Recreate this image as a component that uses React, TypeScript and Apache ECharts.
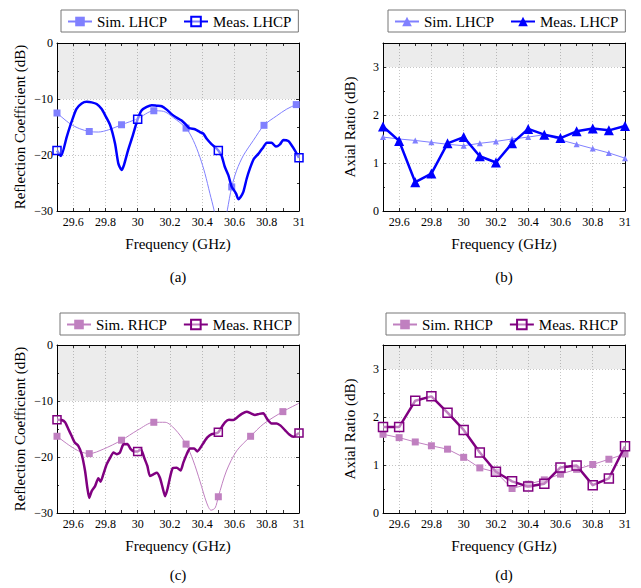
import React, { useEffect, useRef } from "react";
import * as echarts from "echarts";

// ---------- data ----------
const simLhcpFreq = [29.5, 29.58, 29.64, 29.7, 29.756, 29.82, 29.9, 30.0, 30.1, 30.16, 30.22, 30.3, 30.345, 30.386, 30.417, 30.448, 30.473, 30.49, 30.51, 30.53, 30.545, 30.556, 30.583, 30.614, 30.655, 30.717, 30.783, 30.862, 30.924, 30.983, 31.0];
const simLhcpRC = [-12.5, -14.4, -15.3, -15.8, -15.9, -15.5, -14.6, -13.5, -12.1, -12.2, -13.3, -15.2, -17.4, -20.4, -23.3, -26.9, -29.8, -32.5, -36, -35, -31.5, -29.8, -25.7, -22.7, -20.1, -17.4, -14.7, -13.0, -11.8, -11.0, -10.9];
const simLhcpMarkers = [29.5, 29.7, 29.9, 30.1, 30.3, 30.583, 30.783, 30.983];

const measLhcpFreq = [29.5, 29.525, 29.56, 29.59, 29.62, 29.653, 29.684, 29.715, 29.746, 29.777, 29.8, 29.83, 29.86, 29.88, 29.9, 29.915, 29.94, 29.97, 30.0, 30.025, 30.056, 30.087, 30.118, 30.149, 30.18, 30.21, 30.24, 30.27, 30.3, 30.32, 30.355, 30.386, 30.407, 30.428, 30.459, 30.48, 30.5, 30.52, 30.54, 30.562, 30.583, 30.597, 30.61, 30.624, 30.638, 30.655, 30.676, 30.696, 30.72, 30.748, 30.779, 30.8, 30.83, 30.857, 30.882, 30.903, 30.934, 30.955, 30.975, 31.0];
const measLhcpRC = [-19.2, -20.2, -16.8, -14.1, -11.8, -10.8, -10.5, -10.6, -10.9, -11.8, -13.0, -14.7, -18.0, -21.5, -22.7, -21.8, -19.2, -16.5, -13.6, -12.0, -11.4, -11.1, -11.2, -11.3, -11.9, -12.7, -13.3, -13.8, -14.6, -15.2, -15.4, -15.9, -16.2, -17.1, -18.1, -18.6, -19.2, -20.1, -22.1, -23.6, -25.7, -26.3, -26.9, -27.9, -27.5, -26.6, -24.2, -22.4, -20.7, -19.8, -18.6, -17.8, -17.8, -18.5, -18.1, -17.3, -17.5, -18.3, -19.2, -20.5];
const measMarkers = [29.5, 30.0, 30.5, 31.0];

const simRhcpFreq = [29.5, 29.58, 29.64, 29.7, 29.787, 29.9, 30.0, 30.1, 30.17, 30.23, 30.3, 30.345, 30.386, 30.428, 30.455, 30.48, 30.5, 30.55, 30.614, 30.7, 30.78, 30.9, 31.0];
const simRhcpRC = [-16.3, -18.0, -19.0, -19.4, -18.6, -17.0, -15.2, -13.8, -13.8, -15.0, -17.7, -20.7, -24.3, -28.2, -29.5, -29.1, -27.1, -22.5, -18.9, -16.3, -14.1, -11.9, -10.4];
const simRhcpMarkers = [29.5, 29.7, 29.9, 30.1, 30.3, 30.5, 30.7, 30.9];

const measRhcpFreq = [29.5, 29.529, 29.55, 29.57, 29.59, 29.61, 29.632, 29.653, 29.674, 29.688, 29.7, 29.715, 29.736, 29.756, 29.77, 29.787, 29.808, 29.83, 29.85, 29.87, 29.89, 29.91, 29.936, 29.957, 29.977, 30.0, 30.02, 30.04, 30.06, 30.076, 30.097, 30.118, 30.138, 30.155, 30.17, 30.184, 30.2, 30.217, 30.242, 30.266, 30.283, 30.304, 30.324, 30.35, 30.37, 30.39, 30.41, 30.432, 30.459, 30.48, 30.5, 30.52, 30.541, 30.566, 30.593, 30.618, 30.645, 30.676, 30.702, 30.727, 30.754, 30.779, 30.8, 30.83, 30.862, 30.886, 30.913, 30.94, 30.965, 31.0];
const measRhcpRC = [-13.35, -13.4, -13.8, -15.0, -16.2, -17.4, -18.0, -19.5, -22.5, -25.5, -27.3, -26.1, -25.2, -23.8, -24.4, -23.1, -21.3, -20.1, -19.2, -19.5, -19.2, -17.8, -17.7, -18.6, -19.0, -19.0, -18.6, -20.1, -21.6, -23.4, -23.1, -22.8, -23.7, -25.5, -27.0, -25.8, -23.7, -22.0, -21.9, -22.4, -21.0, -19.5, -18.5, -18.5, -19.0, -18.3, -17.4, -16.5, -15.9, -15.8, -15.6, -14.7, -13.8, -13.35, -13.4, -12.9, -12.3, -11.9, -12.2, -12.5, -12.3, -12.2, -13.1, -14.0, -14.0, -14.4, -15.2, -16.0, -16.4, -15.7];

const arFreq = [29.5, 29.6, 29.7, 29.8, 29.9, 30.0, 30.1, 30.2, 30.3, 30.4, 30.5, 30.6, 30.7, 30.8, 30.9, 31.0];
const simLhcpAR = [1.54, 1.50, 1.47, 1.43, 1.39, 1.36, 1.41, 1.45, 1.50, 1.54, 1.59, 1.48, 1.39, 1.30, 1.21, 1.10];
const measLhcpAR = [1.76, 1.46, 0.60, 0.78, 1.41, 1.54, 1.14, 1.01, 1.41, 1.71, 1.59, 1.52, 1.66, 1.72, 1.68, 1.77];
const simRhcpAR = [1.64, 1.57, 1.48, 1.40, 1.33, 1.16, 0.94, 0.85, 0.51, 0.60, 0.69, 0.81, 0.91, 1.01, 1.12, 1.23];
const measRhcpAR = [1.79, 1.79, 2.34, 2.43, 2.09, 1.73, 1.26, 0.86, 0.66, 0.55, 0.61, 0.95, 0.99, 0.58, 0.72, 1.39];

const captions = ["(a)", "(b)", "(c)", "(d)"];

// ---------- styling ----------
const FONT = "Liberation Serif";
const C_SIM_L = "#8080ff";
const C_MEAS_L = "#0000ff";
const C_SIM_R = "#c080c0";
const C_MEAS_R = "#800080";

const grids = [
  { left: 57, top: 43, width: 242, height: 168 },
  { left: 383, top: 43, width: 242, height: 168 },
  { left: 57, top: 345, width: 242, height: 168 },
  { left: 383, top: 345, width: 242, height: 168 },
];

const near = (a: number, b: number) => Math.abs(a - b) < 1e-6;

function items(freqs: number[], vals: number[], markers: number[]) {
  return freqs.map((f, i) =>
    markers.some((m) => near(m, f)) ? [f, vals[i]] : { value: [f, vals[i]], symbol: "none" }
  );
}
function pairs(freqs: number[], vals: number[]) {
  return freqs.map((f, i) => [f, vals[i]]);
}

const fmtX = (v: number) => {
  const k = Math.round(v * 10);
  if (k % 2 !== 0) return "";
  return String(k / 10);
};

function xAxesFor(gi: number) {
  const common = {
    type: "value",
    gridIndex: gi,
    min: 29.5,
    max: 31,
    interval: 0.1,
    axisLine: { show: true, onZero: false, lineStyle: { color: "#000", width: 1 } },
    axisTick: { show: true, inside: true, length: 3, lineStyle: { color: "#000", width: 0.8 } },
  };
  return [
    {
      ...common,
      position: "bottom",
      name: "Frequency (GHz)",
      nameLocation: "middle",
      nameGap: 25,
      nameTextStyle: { fontFamily: FONT, fontSize: 15, color: "#000" },
      axisLabel: { fontFamily: FONT, fontSize: 12, color: "#000", margin: 5, formatter: fmtX, showMinLabel: true, showMaxLabel: true },
      splitLine: { show: true, lineStyle: { color: ["transparent", "#b8b8b8"], type: [1, 2], width: 0.8 } },
    },
    {
      ...common,
      position: "top",
      axisLabel: { show: false },
      splitLine: { show: false },
    },
  ];
}

function yAxesFor(gi: number, kind: "rc" | "ar") {
  const isRC = kind === "rc";
  const common = {
    type: "value",
    gridIndex: gi,
    min: isRC ? -30 : 0,
    max: isRC ? 0 : 3.5,
    interval: isRC ? 10 : 1,
    axisLine: { show: true, onZero: false, lineStyle: { color: "#000", width: 1 } },
    axisTick: { show: true, inside: true, length: 3, lineStyle: { color: "#000", width: 0.8 } },
    minorTick: { show: true, splitNumber: 2, length: 2, lineStyle: { color: "#000", width: 0.8 } },
  };
  return [
    {
      ...common,
      position: "left",
      name: isRC ? "Reflection Coefficient (dB)" : "Axial Ratio (dB)",
      nameLocation: "middle",
      nameGap: isRC ? 30 : 26,
      nameRotate: 90,
      nameTextStyle: { fontFamily: FONT, fontSize: 15, color: "#000" },
      axisLabel: {
        fontFamily: FONT,
        fontSize: 12,
        color: "#000",
        margin: 4,
        formatter: (v: number) => (!isRC && v > 3.2 ? "" : String(v).replace("-", "\u2212")),
      },
      splitLine: { show: true, lineStyle: { color: "#b8b8b8", type: [1, 2], width: 0.8 } },
    },
    {
      ...common,
      position: "right",
      axisLabel: { show: false },
      splitLine: { show: false },
    },
  ];
}

function shade(lo: number, hi: number) {
  return {
    silent: true,
    itemStyle: { color: "rgba(0,0,0,0.075)" },
    data: [[{ yAxis: lo }, { yAxis: hi }]],
  };
}

function legendFor(left: number, top: number, names: string[]) {
  return {
    left,
    top,
    orient: "horizontal",
    data: names,
    selectedMode: false,
    borderColor: "#777",
    borderWidth: 1,
    borderRadius: 0,
    padding: [4, 7, 3, 6],
    itemGap: 16,
    itemWidth: 24,
    itemHeight: 12,
    formatter: (n: string) => n.trim(),
    textStyle: { fontFamily: FONT, fontSize: 15, color: "#000" },
  };
}

export default function App() {
  const ref = useRef<HTMLDivElement>(null);
  useEffect(() => {
    if (!ref.current) return;
    const chart = echarts.init(ref.current, undefined, { renderer: "svg" });

    const xAxis = [...xAxesFor(0), ...xAxesFor(1), ...xAxesFor(2), ...xAxesFor(3)];
    const yAxis = [...yAxesFor(0, "rc"), ...yAxesFor(1, "ar"), ...yAxesFor(2, "rc"), ...yAxesFor(3, "ar")];

    const series: any[] = [
      // (a)
      {
        name: "Sim. LHCP",
        type: "line",
        xAxisIndex: 0,
        yAxisIndex: 0,
        data: items(simLhcpFreq, simLhcpRC, simLhcpMarkers),
        smooth: 0.3,
        symbol: "rect",
        symbolSize: 7,
        showAllSymbol: true,
        itemStyle: { color: C_SIM_L },
        lineStyle: { color: C_SIM_L, width: 1 },
        markArea: shade(-10, 0),
        z: 2,
      },
      {
        name: "Meas. LHCP",
        type: "line",
        xAxisIndex: 0,
        yAxisIndex: 0,
        data: items(measLhcpFreq, measLhcpRC, measMarkers),
        smooth: 0.2,
        symbol: "rect",
        symbolSize: 8,
        showAllSymbol: true,
        itemStyle: { color: "rgba(255,255,255,0.5)", borderColor: C_MEAS_L, borderWidth: 1.5 },
        lineStyle: { color: C_MEAS_L, width: 2.5 },
        z: 3,
      },
      // (b)
      {
        name: "Sim. LHCP ",
        type: "line",
        xAxisIndex: 2,
        yAxisIndex: 2,
        data: pairs(arFreq, simLhcpAR),
        symbol: "triangle",
        symbolSize: 6,
        itemStyle: { color: C_SIM_L },
        lineStyle: { color: C_SIM_L, width: 1 },
        markArea: shade(3, 3.5),
        z: 2,
      },
      {
        name: "Meas. LHCP ",
        type: "line",
        xAxisIndex: 2,
        yAxisIndex: 2,
        data: pairs(arFreq, measLhcpAR),
        symbol: "triangle",
        symbolSize: 10,
        itemStyle: { color: C_MEAS_L },
        lineStyle: { color: C_MEAS_L, width: 2.5 },
        z: 3,
      },
      // (c)
      {
        name: "Sim. RHCP",
        type: "line",
        xAxisIndex: 4,
        yAxisIndex: 4,
        data: items(simRhcpFreq, simRhcpRC, simRhcpMarkers),
        smooth: 0.3,
        symbol: "rect",
        symbolSize: 7,
        showAllSymbol: true,
        itemStyle: { color: C_SIM_R },
        lineStyle: { color: C_SIM_R, width: 1 },
        markArea: shade(-10, 0),
        z: 2,
      },
      {
        name: "Meas. RHCP",
        type: "line",
        xAxisIndex: 4,
        yAxisIndex: 4,
        data: items(measRhcpFreq, measRhcpRC, measMarkers),
        smooth: 0.2,
        symbol: "rect",
        symbolSize: 8,
        showAllSymbol: true,
        itemStyle: { color: "rgba(255,255,255,0.5)", borderColor: C_MEAS_R, borderWidth: 1.5 },
        lineStyle: { color: C_MEAS_R, width: 2.5 },
        z: 3,
      },
      // (d)
      {
        name: "Sim. RHCP ",
        type: "line",
        xAxisIndex: 6,
        yAxisIndex: 6,
        data: pairs(arFreq, simRhcpAR),
        symbol: "rect",
        symbolSize: 7,
        itemStyle: { color: C_SIM_R },
        lineStyle: { color: C_SIM_R, width: 1 },
        markArea: shade(3, 3.5),
        z: 2,
      },
      {
        name: "Meas. RHCP ",
        type: "line",
        xAxisIndex: 6,
        yAxisIndex: 6,
        data: pairs(arFreq, measRhcpAR),
        symbol: "rect",
        symbolSize: 9,
        itemStyle: { color: "rgba(255,255,255,0.5)", borderColor: C_MEAS_R, borderWidth: 1.5 },
        lineStyle: { color: C_MEAS_R, width: 2.5 },
        z: 3,
      },
    ];

    const capPos = [
      [178, 277],
      [504, 277],
      [178, 575],
      [504, 575],
    ];

    chart.setOption({
      animation: false,
      backgroundColor: "#fff",
      grid: grids.map((g) => ({ ...g, containLabel: false })),
      xAxis,
      yAxis,
      legend: [
        legendFor(61, 10, ["Sim. LHCP", "Meas. LHCP"]),
        legendFor(388, 10, ["Sim. LHCP ", "Meas. LHCP "]),
        legendFor(60, 313, ["Sim. RHCP", "Meas. RHCP"]),
        legendFor(386, 313, ["Sim. RHCP ", "Meas. RHCP "]),
      ],
      series,
      graphic: captions.map((c, i) => ({
        type: "text",
        x: capPos[i][0],
        y: capPos[i][1],
        style: { text: c, fontFamily: FONT, fontSize: 15, fill: "#000", textAlign: "center", textVerticalAlign: "middle" },
      })),
    });

    return () => chart.dispose();
  }, []);

  return <div ref={ref} style={{ position: "absolute", left: 0, top: 0, width: 641, height: 588 }} />;
}
